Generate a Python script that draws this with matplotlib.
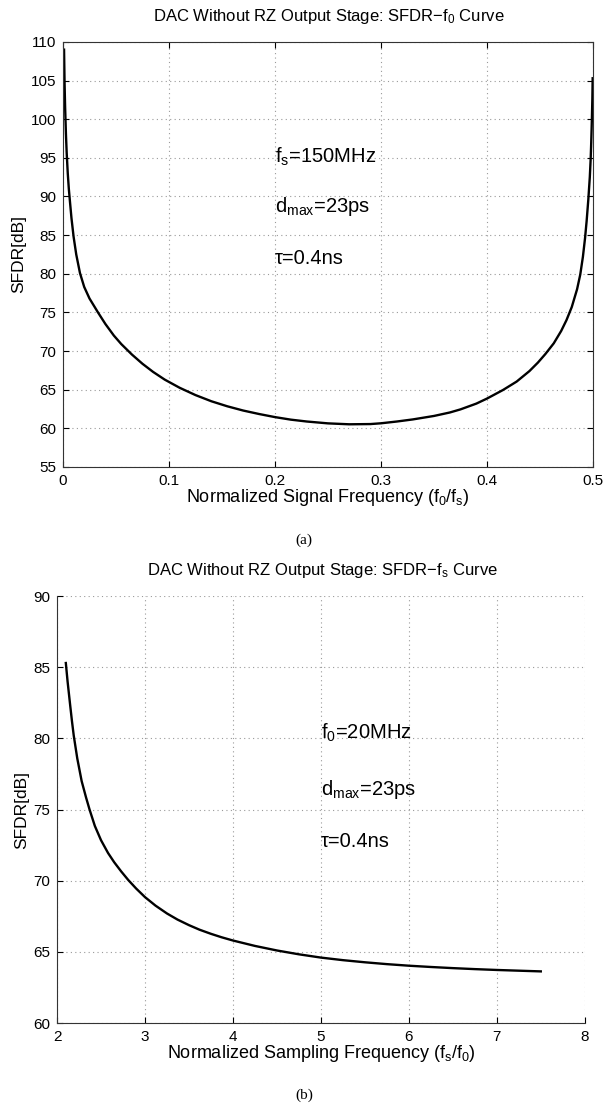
"""Two-panel SFDR curves for a DAC without RZ output stage (MATLAB-style look)."""

import matplotlib

matplotlib.use("Agg")
import matplotlib.pyplot as plt

plt.rcParams["font.family"] = ["Liberation Sans", "DejaVu Sans"]
plt.rcParams["mathtext.fontset"] = "custom"
plt.rcParams["mathtext.rm"] = "Liberation Sans"
plt.rcParams["mathtext.it"] = "Liberation Sans"
plt.rcParams["mathtext.default"] = "regular"

# (a) SFDR vs normalized signal frequency f0/fs
f0_norm = [0.001, 0.0015, 0.002, 0.0028, 0.0035, 0.0045, 0.0055, 0.0066, 0.008, 0.01,
           0.0125, 0.016, 0.02, 0.025, 0.033, 0.04, 0.048, 0.055, 0.065, 0.075,
           0.085, 0.096, 0.11, 0.125, 0.14, 0.155, 0.17, 0.185, 0.2, 0.215,
           0.23, 0.25, 0.27, 0.29, 0.3, 0.315, 0.33, 0.35, 0.365, 0.375,
           0.39, 0.4, 0.415, 0.428, 0.44, 0.448, 0.455, 0.463, 0.47, 0.475,
           0.48, 0.485, 0.488, 0.4905, 0.4925, 0.494, 0.4956, 0.497, 0.4978, 0.4983,
           0.4987, 0.499, 0.4994, 0.4997]
sfdr_a = [109.0, 104.6, 101.6, 98.0, 95.6, 93.0, 91.0, 89.3, 87.2, 84.8,
          82.5, 80.1, 78.3, 76.8, 75.0, 73.5, 72.0, 70.9, 69.55, 68.35,
          67.3, 66.3, 65.25, 64.3, 63.5, 62.85, 62.3, 61.85, 61.45, 61.12,
          60.88, 60.64, 60.52, 60.55, 60.65, 60.88, 61.15, 61.6, 62.05, 62.45,
          63.2, 63.85, 64.95, 66.05, 67.4, 68.5, 69.6, 71.0, 72.6, 74.0,
          75.7, 78.0, 79.9, 82.2, 84.6, 86.8, 89.6, 92.5, 94.8, 96.8,
          98.7, 100.2, 102.6, 105.3]

# (b) SFDR vs normalized sampling frequency fs/f0
fs_norm = [2.10, 2.12, 2.15, 2.17, 2.19, 2.23, 2.28, 2.33, 2.37, 2.43,
           2.5, 2.58, 2.65, 2.73, 2.81, 2.9, 3.0, 3.12, 3.25, 3.37,
           3.5, 3.62, 3.75, 3.87, 4.0, 4.25, 4.5, 4.75, 5.0, 5.25,
           5.5, 5.75, 6.0, 6.25, 6.5, 6.75, 7.0, 7.25, 7.5]
sfdr_b = [85.3, 84.0, 82.3, 81.2, 80.2, 78.6, 77.0, 75.85, 75.0, 73.85,
          72.85, 71.95, 71.3, 70.65, 70.05, 69.45, 68.85, 68.25, 67.7, 67.27,
          66.88, 66.56, 66.27, 66.03, 65.8, 65.42, 65.1, 64.83, 64.6, 64.42,
          64.27, 64.14, 64.03, 63.94, 63.86, 63.79, 63.73, 63.68, 63.63]

notes_a = ["f$_s$=150MHz", "d$_{max}$=23ps", "τ=0.4ns"]
notes_b = ["f$_0$=20MHz", "d$_{max}$=23ps", "τ=0.4ns"]

GRID = dict(color="#9a9a9a", linestyle=(0, (1, 3)), linewidth=0.8)


def _style(ax, box):
    ax.grid(True, **GRID)
    ax.tick_params(direction="in", length=4, width=0.8, labelsize=11, pad=5,
                   top=box, right=box)
    for side in ("top", "right"):
        ax.spines[side].set_visible(box)
    for sp in ax.spines.values():
        sp.set_linewidth(0.8)
        sp.set_color("#333333")


fig = plt.figure(figsize=(6.08, 11.06), dpi=100)

ax1 = fig.add_axes([0.1036, 0.5778, 0.8717, 0.3843])
ax1.plot(f0_norm, sfdr_a, color="black", linewidth=1.7)
ax1.set_xlim(0, 0.5)
ax1.set_ylim(55, 110)
ax1.set_xticks([0, 0.1, 0.2, 0.3, 0.4, 0.5])
ax1.set_xticklabels(["0", "0.1", "0.2", "0.3", "0.4", "0.5"])
ax1.set_yticks(range(55, 111, 5))
_style(ax1, True)
ax1.set_xlabel("Normalized Signal Frequency (f$_0$/f$_s$)", fontsize=13, labelpad=-1)
ax1.set_ylabel("SFDR[dB]", fontsize=12.5, labelpad=3)
for txt, yv in zip(notes_a, [94.4, 88.05, 81.2]):
    ax1.text(0.2, yv, txt, fontsize=14.5, va="baseline", ha="left")
fig.text(0.54, 0.985, "DAC Without RZ Output Stage: SFDR\u2212f$_0$ Curve",
         ha="center", va="center", fontsize=12)
fig.text(0.5, 0.5118, "(a)", ha="center", va="center", fontsize=11,
         family=["Liberation Serif", "DejaVu Serif"])

ax2 = fig.add_axes([0.0938, 0.075, 0.868, 0.386])
ax2.plot(fs_norm, sfdr_b, color="black", linewidth=1.7)
ax2.set_xlim(2, 8)
ax2.set_ylim(60, 90)
ax2.set_xticks(range(2, 9))
ax2.set_yticks(range(60, 91, 5))
_style(ax2, False)
ax2.set_xlabel("Normalized Sampling Frequency (f$_s$/f$_0$)", fontsize=13, labelpad=-1)
ax2.set_ylabel("SFDR[dB]", fontsize=12.5, labelpad=3)
for txt, yv in zip(notes_b, [80.0, 76.05, 72.4]):
    ax2.text(5.0, yv, txt, fontsize=14.5, va="baseline", ha="left")
fig.text(0.53, 0.4846, "DAC Without RZ Output Stage: SFDR\u2212f$_s$ Curve",
         ha="center", va="center", fontsize=12)
fig.text(0.5, 0.01, "(b)", ha="center", va="center", fontsize=11,
         family=["Liberation Serif", "DejaVu Serif"])

fig.savefig("out.png", dpi=100)
